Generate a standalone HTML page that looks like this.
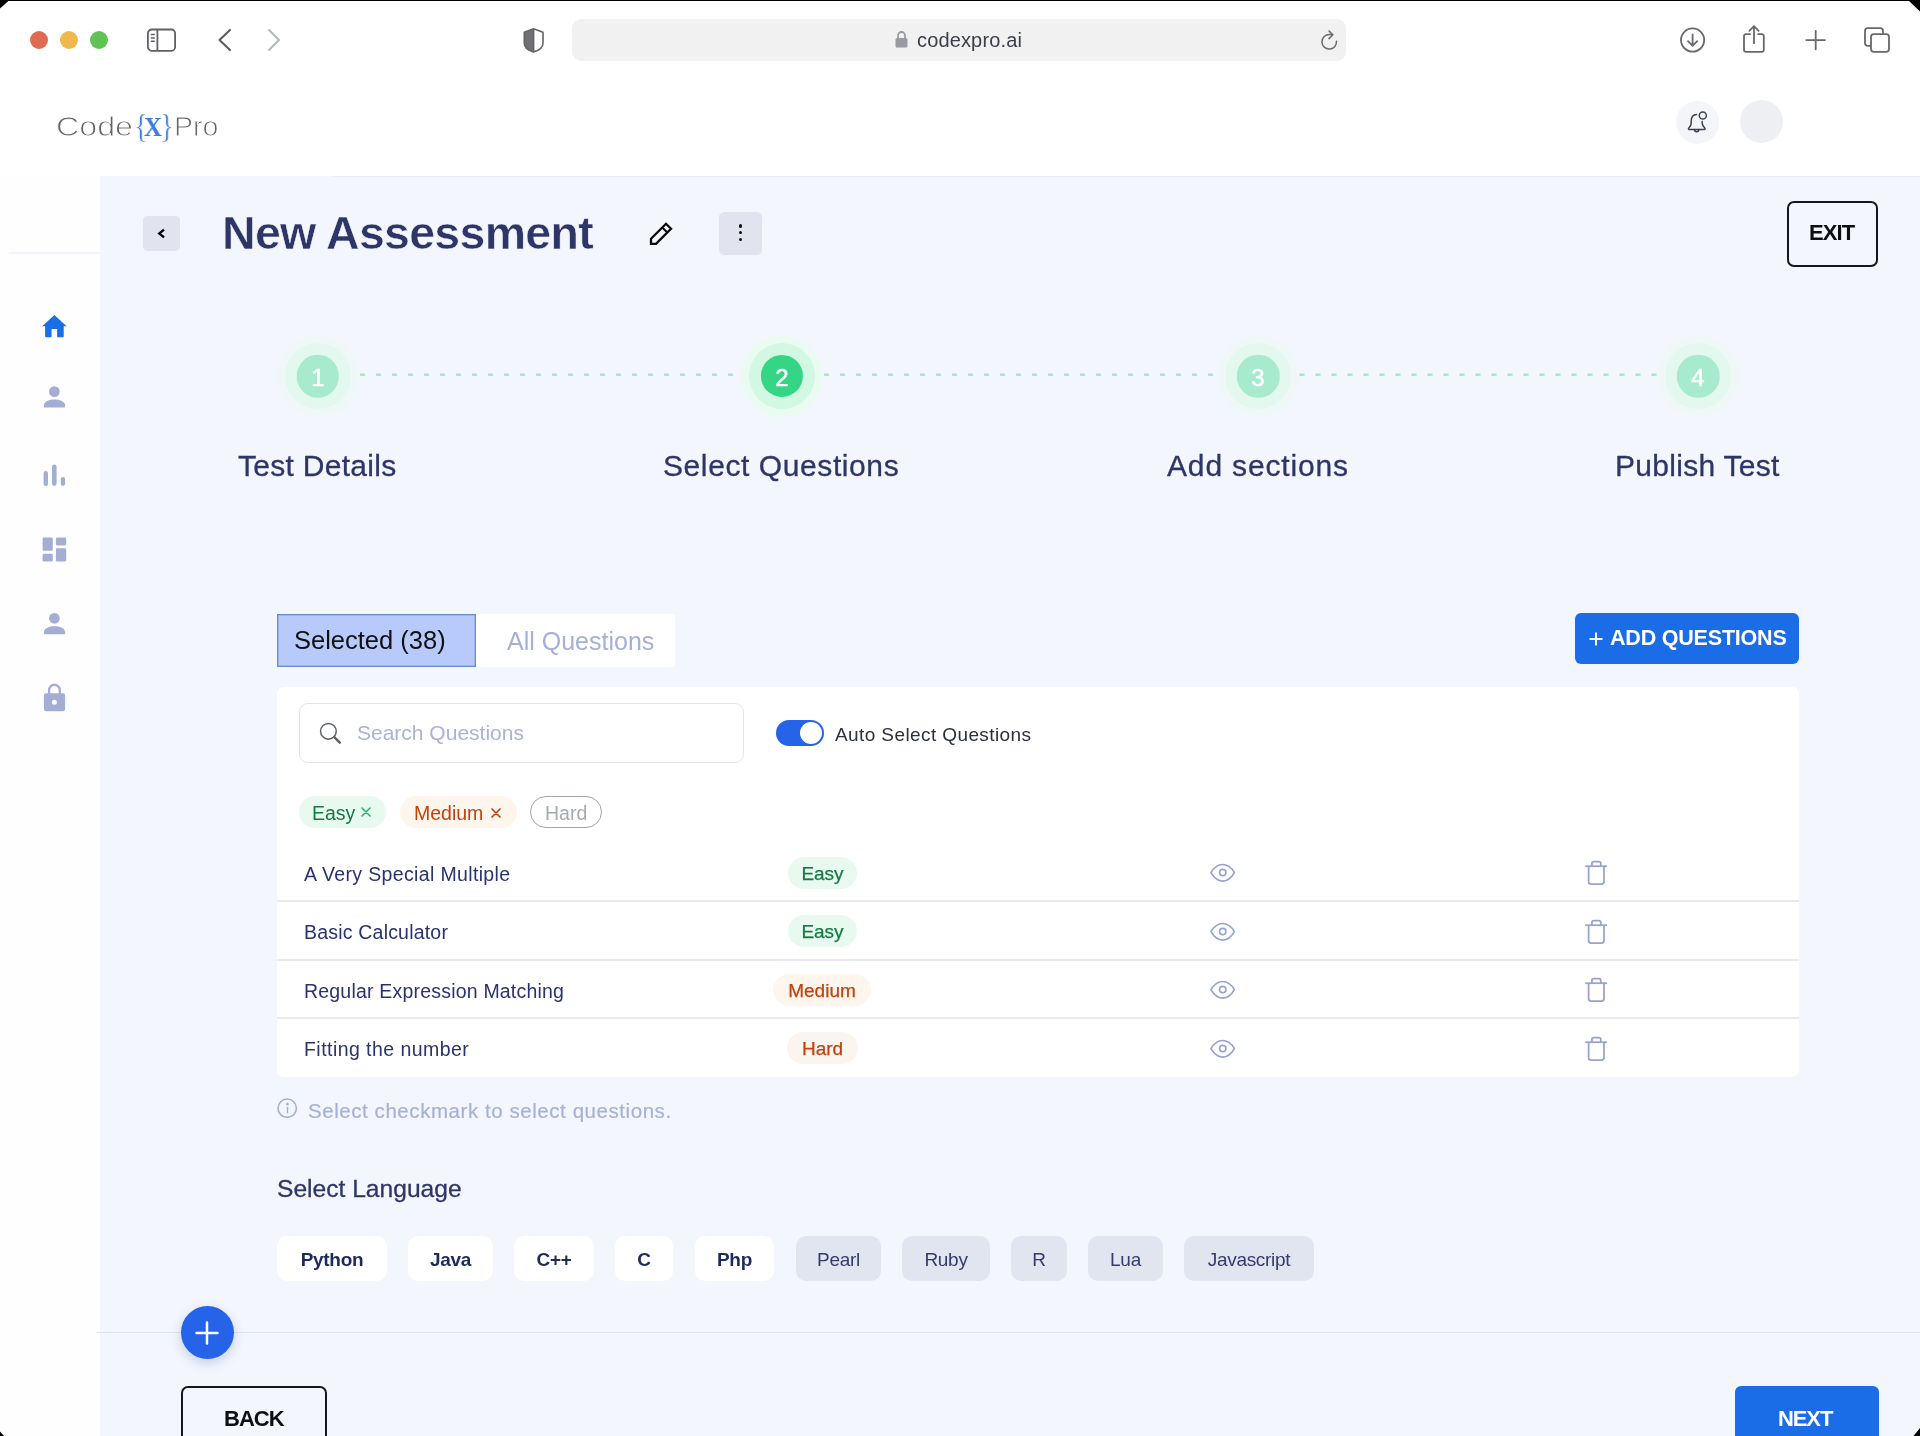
<!DOCTYPE html>
<html><head><meta charset="utf-8">
<style>
*{margin:0;padding:0;box-sizing:border-box}
html,body{width:1920px;height:1436px;overflow:hidden;background:#000}
body{font-family:"Liberation Sans",sans-serif;position:relative}
#win{position:absolute;left:0;top:0;width:1920px;height:1436px;background:#fff;overflow:hidden}
.a{position:absolute}
.t{position:absolute;white-space:nowrap;line-height:1;will-change:transform}
#main{position:absolute;left:100px;top:176px;width:1820px;height:1280px;background:#f3f6fd}
#side{position:absolute;left:0;top:176px;width:100px;height:1280px;background:#fefefe}
.tl{position:absolute;top:31px;width:18px;height:18px;border-radius:50%}
.navy{color:#2e3567}
.step{position:absolute;top:376px;border-radius:50%;transform:translate(-50%,-50%)}
.lbl{font-size:30px;color:#2e3567;letter-spacing:.5px;-webkit-text-stroke:.3px #2e3567}
.num{top:365.7px;width:40px;text-align:center;font-size:24px;color:#fff;-webkit-text-stroke:.5px #fff}
.row{position:absolute;left:277px;width:1522px;height:2px;background:#e8eaf0}
.qt{font-size:19.5px;letter-spacing:.35px;color:#2a3270}
.badge{will-change:transform;position:absolute;height:32px;border-radius:16px;font-size:19px;line-height:32px;padding-top:1px;text-align:center;-webkit-text-stroke:.25px currentColor}
.easy{background:#e8faf0;color:#157a45}
.med{background:#fef6ec;color:#c2410c}
.lang{will-change:transform;position:absolute;top:1236px;height:45px;border-radius:10px;font-size:19px;line-height:45px;padding-top:1px;text-align:center;color:#1f2a5c;letter-spacing:-.3px}
.on{background:#fff;font-weight:700}
.off{background:#e1e5f0;color:#333c6c}
</style></head><body>
<div id="win">

  <!-- browser toolbar -->
  <div class="tl" style="left:30.2px;background:#dd6c52"></div>
  <div class="tl" style="left:60.2px;background:#f1b94b"></div>
  <div class="tl" style="left:90.2px;background:#60c454"></div>
  <!-- sidebar toggle -->
  <svg class="a" style="left:146px;top:28px" width="32" height="24" viewBox="0 0 32 24" fill="none" stroke="#5f5f64" stroke-width="1.8"><rect x="1.9" y="1.5" width="27.2" height="21.3" rx="3.8"/><line x1="11.4" y1="1.5" x2="11.4" y2="22.8"/><g stroke-width="1.4" stroke-linecap="round"><line x1="5.3" y1="6.5" x2="8.3" y2="6.5"/><line x1="5.3" y1="10" x2="8.3" y2="10"/><line x1="5.3" y1="13.2" x2="8.3" y2="13.2"/></g></svg>
  <svg class="a" style="left:214px;top:28px" width="22" height="24" viewBox="0 0 22 24" fill="none" stroke="#5b5b60" stroke-width="2.1" stroke-linecap="round" stroke-linejoin="round"><path d="M16 2 L5.5 12 L16 22"/></svg>
  <svg class="a" style="left:262px;top:28px" width="22" height="24" viewBox="0 0 22 24" fill="none" stroke="#b3b6c3" stroke-width="2" stroke-linecap="round" stroke-linejoin="round"><path d="M7 2 L17 12 L7 22"/></svg>
  <!-- shield -->
  <svg class="a" style="left:518px;top:24px" width="32" height="32" viewBox="518 24 32 32"><path d="M533.6 28.8 L524.3 32.3 V43 C524.3 47.6 528.5 50.6 533.6 51.9 Z" fill="#707075"/><path d="M533.6 28.8 L543 32.3 V43 C543 47.6 538.7 50.6 533.6 51.9 C528.5 50.6 524.3 47.6 524.3 43 V32.3 Z M533.6 28.8 V51.9" fill="none" stroke="#636368" stroke-width="1.6" stroke-linejoin="round"/></svg>
  <!-- url bar -->
  <div class="a" style="left:572px;top:19px;width:774px;height:42px;border-radius:9px;background:#f1f1f2"></div>
  <svg class="a" style="left:895px;top:30px" width="13" height="18" viewBox="0 0 13 18"><path d="M3 8 V5.5 A3.5 3.5 0 0 1 10 5.5 V8" fill="none" stroke="#9a9aa5" stroke-width="1.8"/><rect x="0.5" y="8" width="12" height="9.5" rx="1.5" fill="#9a9aa5"/></svg>
  <div class="t" style="left:916.5px;top:29.9px;font-size:20px;color:#3b3e4b;letter-spacing:.15px">codexpro.ai</div>
  <svg class="a" style="left:1318px;top:28px" width="24" height="24" viewBox="0 0 24 24" fill="none" stroke="#6b6b70" stroke-width="1.5" stroke-linecap="round" stroke-linejoin="round"><path d="M14.5 6.6 C13.5 6.5 12.3 6.5 11.2 6.5 A7.3 7.3 0 1 0 18.5 13.3"/><path d="M11 3 L14.8 6.8 L11 10.6"/></svg>
  <!-- right toolbar icons -->
  <svg class="a" style="left:1670px;top:18px" width="230" height="40" viewBox="1670 18 230 40" fill="none" stroke="#68686d" stroke-width="1.8" stroke-linecap="round" stroke-linejoin="round">
    <circle cx="1692.6" cy="40.05" r="11.6"/><path d="M1692.6 34.4 V45.2 M1688 41.2 L1692.6 45.8 L1697.2 41.2"/>
    <path d="M1750 34.2 H1746.1 A2.1 2.1 0 0 0 1744 36.3 V49.8 A2.1 2.1 0 0 0 1746.1 51.9 H1761.7 A2.1 2.1 0 0 0 1763.8 49.8 V36.3 A2.1 2.1 0 0 0 1761.7 34.2 H1758.2"/><path d="M1754 26.6 V43.2 M1749.4 30.8 L1754 26.2 L1758.6 30.8"/>
    <path d="M1806.2 40.05 H1825 M1815.7 30.8 V49.3"/>
    <rect x="1865" y="28.2" width="18" height="17.7" rx="2.8"/><rect x="1871" y="34.2" width="18" height="17.7" rx="2.8" fill="#fff"/>
  </svg>

  <!-- app header -->
  <div class="t" style="left:56px;top:112.8px;font-size:28px;color:#636368;-webkit-text-stroke:.9px #fff;transform:scaleX(1.15);transform-origin:0 0">Code</div>
  <div class="t" style="left:133.8px;top:109px;font-size:34px;color:#3a7be0;font-family:'Liberation Serif',serif;-webkit-text-stroke:.4px #fff;transform:scaleX(.85);transform-origin:0 0">{</div>
  <div class="t" style="left:144px;top:114px;font-size:27px;color:#3a7be0;font-weight:700;font-family:'Liberation Serif',serif;transform:scaleX(.92);transform-origin:0 0">X</div>
  <div class="t" style="left:160.3px;top:109px;font-size:34px;color:#3a7be0;font-family:'Liberation Serif',serif;-webkit-text-stroke:.4px #fff;transform:scaleX(.85);transform-origin:0 0">}</div>
  <div class="t" style="left:173.5px;top:112.8px;font-size:28px;color:#636368;-webkit-text-stroke:.9px #fff;transform:scaleX(1.02);transform-origin:0 0">Pro</div>
  <div class="a" style="left:1676px;top:101px;width:43px;height:43px;border-radius:50%;background:#f4f5f8"></div>
  <svg class="a" style="left:1682px;top:106px" width="30" height="32" viewBox="1682 106 30 32" fill="none" stroke="#3c404f" stroke-width="1.5" stroke-linecap="round" stroke-linejoin="round"><path d="M1696.6 114.4 C1693 114.6 1691.2 117.5 1691.2 121 V123.3 C1691.2 125.5 1690 127 1688.8 128 C1688.2 128.5 1688.5 129.4 1689.3 129.4 H1704.3 C1705.1 129.4 1705.4 128.5 1704.8 128 C1703.6 127 1702.2 125.5 1702.2 123.3 V121.4"/><path d="M1694.5 129.6 A2.2 2.2 0 0 0 1698.9 129.6"/><circle cx="1702.8" cy="115.5" r="3.55" stroke-width="1.45"/></svg>
  <div class="a" style="left:1740px;top:100px;width:43px;height:43px;border-radius:50%;background:#eeeff3"></div>

  <!-- sidebar -->
  <div id="side"></div>
  <div class="a" style="left:9px;top:252px;width:91px;height:2px;background:#f3f5fb"></div>
  <!-- sidebar icons -->
  <svg class="a" style="left:38px;top:312px" width="32" height="28" viewBox="38 312 32 28"><path d="M54.4 315 L66.6 326.3 H63.7 V336.3 Q63.7 337.2 62.8 337.2 H58 Q57.1 337.2 57.1 336.3 V329 H51.6 V336.3 Q51.6 337.2 50.7 337.2 H46 Q45.1 337.2 45.1 336.3 V326.3 H42.2 Z" fill="#1a6ee6"/></svg>
  <svg class="a" style="left:36px;top:380px" width="36" height="340" viewBox="36 380 36 340" fill="#a4aed4">
    <circle cx="54.4" cy="391.6" r="5.35"/><path d="M43.9 407.6 V405.3 C43.9 401.4 49.5 399.5 54.5 399.5 C59.5 399.5 65.1 401.4 65.1 405.3 V407.6 Z"/>
    <rect x="43.6" y="471" width="4.4" height="14.9" rx="2.2"/><rect x="52" y="464.6" width="4.6" height="21.3" rx="2.3"/><rect x="60.8" y="476.9" width="4.3" height="9" rx="2.15"/>
    <rect x="42.6" y="537.6" width="10.2" height="13.2" rx="1.3"/><rect x="55.9" y="537.6" width="10.3" height="7.8" rx="1.3"/><rect x="42.6" y="553.7" width="10.2" height="7.8" rx="1.3"/><rect x="55.9" y="548.3" width="10.3" height="13.2" rx="1.3"/>
    <circle cx="54.4" cy="618.3" r="5.35"/><path d="M43.9 634.3 V632 C43.9 628.1 49.5 626.2 54.5 626.2 C59.5 626.2 65.1 628.1 65.1 632 V634.3 Z"/>
    <path d="M49.1 694 V690.1 A5.35 5.35 0 0 1 59.8 690.1 V694" fill="none" stroke="#a4aed4" stroke-width="2.3"/>
    <path fill-rule="evenodd" d="M45.9 693.2 H63.1 A2 2 0 0 1 65.1 695.2 V709.3 A2 2 0 0 1 63.1 711.3 H45.9 A2 2 0 0 1 43.9 709.3 V695.2 A2 2 0 0 1 45.9 693.2 Z M54.4 699.7 A2.5 2.5 0 1 0 54.4 704.7 A2.5 2.5 0 1 0 54.4 699.7 Z"/>
  </svg>
  <!-- main -->
  <div id="main"></div>
  <div class="a" style="left:332px;top:176px;width:1588px;height:1px;background:#eaedf5"></div>
  <!-- page title row -->
  <div class="a" style="left:143px;top:216.2px;width:37px;height:34.7px;border-radius:4.5px;background:#e1e4ee"></div>
  <svg class="a" style="left:150px;top:224px" width="20" height="20" viewBox="150 224 20 20" fill="none" stroke="#050505" stroke-width="2.4" stroke-linejoin="miter"><path d="M164 229.6 L159.3 233.5 L164 237.4"/></svg>
  <div class="t navy" style="left:222.3px;top:209.8px;font-size:46.5px;font-weight:700;color:#2e3567;letter-spacing:-.7px;-webkit-text-stroke:.5px #f3f6fd">New Assessment</div>
  <svg class="a" style="left:645px;top:218px" width="32" height="32" viewBox="645 218 32 32" fill="none" stroke="#0a0a0a" stroke-width="2.3" stroke-linejoin="miter"><path d="M651 238.8 L666 223.8 L671 228.8 L656 243.8 L651 243.8 Z"/><path d="M662.3 227.5 L667.3 232.5" stroke-width="2"/></svg>
  <div class="a" style="left:719.2px;top:211.7px;width:43.2px;height:43px;border-radius:5.5px;background:#e1e4ee"></div>
  <div class="a" style="left:738.7px;top:224.3px;width:3.4px;height:3.4px;border-radius:50%;background:#111"></div>
  <div class="a" style="left:738.7px;top:231.1px;width:3.4px;height:3.4px;border-radius:50%;background:#111"></div>
  <div class="a" style="left:738.7px;top:237.6px;width:3.4px;height:3.4px;border-radius:50%;background:#111"></div>
  <div class="a" style="left:1786.5px;top:200.5px;width:91px;height:66px;border:2px solid #15171c;border-radius:7px;background:#f3f6fd"></div>
  <div class="t" style="left:1808.5px;top:221.9px;font-size:22px;font-weight:700;color:#0d0f14;letter-spacing:-.9px">EXIT</div>

  <!-- stepper -->
  <svg class="a" style="left:0;top:370px" width="1920" height="10">
    <line x1="360" y1="4.7" x2="734" y2="4.7" stroke="#a3e9c6" stroke-width="2.5" stroke-dasharray="5 11"/>
    <line x1="824" y1="4.7" x2="1214" y2="4.7" stroke="#a3e9c6" stroke-width="2.5" stroke-dasharray="5 11"/>
    <line x1="1299.5" y1="4.7" x2="1657" y2="4.7" stroke="#a3e9c6" stroke-width="2.5" stroke-dasharray="5 11"/>
  </svg>
  <div class="step" style="left:317.5px;width:81px;height:81px;background:#f0f8f7"></div>
  <div class="step" style="left:317.5px;width:66px;height:66px;background:#e3f8ef"></div>
  <div class="step" style="left:317.5px;width:42.5px;height:42.5px;background:#a7eace"></div>
  <div class="step" style="left:781.8px;width:81.5px;height:81.5px;background:#eafcf2"></div>
  <div class="step" style="left:781.8px;width:66px;height:66px;background:#d2f7e3"></div>
  <div class="step" style="left:781.8px;width:42.2px;height:42.2px;background:#34d584"></div>
  <div class="step" style="left:1258px;width:81px;height:81px;background:#f0f8f7"></div>
  <div class="step" style="left:1258px;width:66px;height:66px;background:#e3f8ef"></div>
  <div class="step" style="left:1258px;width:42.5px;height:42.5px;background:#a7eace"></div>
  <div class="step" style="left:1698px;width:81px;height:81px;background:#f0f8f7"></div>
  <div class="step" style="left:1698px;width:66px;height:66px;background:#e3f8ef"></div>
  <div class="step" style="left:1698px;width:42.5px;height:42.5px;background:#a7eace"></div>
  <div class="t num" style="left:297.5px">1</div>
  <div class="t num" style="left:761.8px">2</div>
  <div class="t num" style="left:1238px">3</div>
  <div class="t num" style="left:1678px">4</div>
  <div class="t lbl" style="left:238px;top:451.4px;letter-spacing:.28px">Test Details</div>
  <div class="t lbl" style="left:663px;top:451.4px;letter-spacing:.59px">Select Questions</div>
  <div class="t lbl" style="left:1167px;top:451.4px;letter-spacing:.85px">Add sections</div>
  <div class="t lbl" style="left:1614.7px;top:451.4px;letter-spacing:.29px">Publish Test</div>

  <!-- tabs -->
  <div class="a" style="left:277px;top:614px;width:199px;height:53px;background:#b8cafb;border:1px solid #6a8bd0;box-shadow:inset 0 0 0 .5px #7e9ddb"></div>
  <div class="t" style="left:294px;top:628px;font-size:25.5px;color:#111">Selected (38)</div>
  <div class="a" style="left:476px;top:614px;width:199px;height:53px;background:#fff"></div>
  <div class="t" style="left:507px;top:628.8px;font-size:25px;color:#a5b0d8">All Questions</div>
  <div class="a" style="left:1575px;top:613px;width:224px;height:51px;border-radius:6px;background:#1a6de6"></div>
  <svg class="a" style="left:1588.5px;top:631.5px" width="14" height="14" viewBox="0 0 14 14" stroke="#fff" stroke-width="2"><path d="M7 0.5 V13.5 M0.5 7 H13.5"/></svg>
  <div class="t" style="left:1610px;top:627.7px;font-size:21.5px;font-weight:700;color:#fff;letter-spacing:-.2px">ADD QUESTIONS</div>

  <!-- card -->
  <div class="a" style="left:277px;top:687px;width:1522px;height:390px;border-radius:7px;background:#fff"></div>
  <div class="a" style="left:299px;top:703px;width:445px;height:60px;border:1px solid #e2e5ec;border-radius:9px"></div>
  <svg class="a" style="left:316px;top:719px" width="28" height="28" viewBox="316 719 28 28" fill="none" stroke="#5b5f6b" stroke-linecap="round"><circle cx="328.4" cy="731.3" r="7.85" stroke-width="1.45"/><path d="M334.3 737.2 L339.8 742.7" stroke-width="2.4"/></svg>
  <div class="t" style="left:357px;top:722px;font-size:21px;color:#a9b3d7">Search Questions</div>
  <div class="a" style="left:776px;top:719.8px;width:48px;height:26.6px;border-radius:14px;background:#2563e8"></div>
  <div class="a" style="left:800px;top:722.4px;width:22px;height:22px;border-radius:50%;background:#fff"></div>
  <div class="t" style="left:835px;top:724.9px;font-size:19px;letter-spacing:.4px;color:#2b2f3f">Auto Select Questions</div>
  <!-- chips -->
  <div class="a" style="left:299px;top:795.5px;width:87px;height:32.5px;border-radius:17px;background:#e8faf0"></div>
  <div class="t" style="left:312px;top:803.5px;font-size:19.5px;color:#137a43">Easy</div>
  <svg class="a" style="left:360.5px;top:807px" width="10" height="10" viewBox="0 0 10 10" stroke="#2bb26a" stroke-width="1.6" stroke-linecap="round"><path d="M1 1 L9 9 M9 1 L1 9"/></svg>
  <div class="a" style="left:400px;top:795.5px;width:117px;height:32.5px;border-radius:17px;background:#fef6ec"></div>
  <div class="t" style="left:413.5px;top:803.5px;font-size:19.5px;color:#c2410c">Medium</div>
  <svg class="a" style="left:490.5px;top:807.5px" width="10" height="10" viewBox="0 0 10 10" stroke="#c2410c" stroke-width="1.7" stroke-linecap="round"><path d="M1 1 L9 9 M9 1 L1 9"/></svg>
  <div class="a" style="left:530px;top:795.5px;width:72px;height:32.5px;border-radius:17px;border:1.5px solid #a0a4b0;background:#fff"></div>
  <div class="t" style="left:544.5px;top:803.5px;font-size:19.5px;color:#a6aab3">Hard</div>

  <!-- rows -->
  <div class="row" style="top:900.3px"></div>
  <div class="row" style="top:958.8px"></div>
  <div class="row" style="top:1017.3px"></div>
  <div class="t qt" style="left:304px;top:864.5px">A Very Special Multiple</div>
  <div class="t qt" style="left:304px;top:923px;letter-spacing:.2px">Basic Calculator</div>
  <div class="t qt" style="left:304px;top:981.5px;letter-spacing:.2px">Regular Expression Matching</div>
  <div class="t qt" style="left:304px;top:1040px;letter-spacing:.45px">Fitting the number</div>
  <div class="badge easy" style="left:788px;top:857px;width:69px">Easy</div>
  <div class="badge easy" style="left:788px;top:915.2px;width:69px">Easy</div>
  <div class="badge med" style="left:773px;top:973.5px;width:98px">Medium</div>
  <div class="badge med" style="left:786.5px;top:1032px;width:71px;background:#fbf5ef">Hard</div>

  <svg width="0" height="0" style="position:absolute">
    <defs>
      <g id="eye" fill="none" stroke="#98a3cd" stroke-width="1.7"><path d="M6 17.7 C9 12.5 13 9.5 17.7 9.5 C22.4 9.5 26.4 12.5 29.4 17.7 C26.4 22.9 22.4 26.1 17.7 26.1 C13 26.1 9 22.9 6 17.7 Z"/><circle cx="17.75" cy="17.6" r="3.2" stroke-width="1.6"/></g>
      <g id="trash" fill="none" stroke="#98a3cd" stroke-width="1.75" stroke-linejoin="round"><path d="M5.2 11.2 H27.1"/><path d="M11.9 11.2 V8.5 A2 2 0 0 1 13.9 6.5 H18.8 A2 2 0 0 1 20.8 8.5 V11.2"/><path d="M8.6 11.2 V26.5 A2.5 2.5 0 0 0 11.1 29 H21.5 A2.5 2.5 0 0 0 24 26.5 V11.2"/></g>
    </defs>
  </svg>
  <svg class="a" style="left:1205px;top:855px" width="36" height="36"><use href="#eye"/></svg>
  <svg class="a" style="left:1205px;top:913.5px" width="36" height="36"><use href="#eye"/></svg>
  <svg class="a" style="left:1205px;top:972px" width="36" height="36"><use href="#eye"/></svg>
  <svg class="a" style="left:1205px;top:1030.5px" width="36" height="36"><use href="#eye"/></svg>
  <svg class="a" style="left:1580px;top:855px" width="36" height="36"><use href="#trash"/></svg>
  <svg class="a" style="left:1580px;top:913.5px" width="36" height="36"><use href="#trash"/></svg>
  <svg class="a" style="left:1580px;top:972px" width="36" height="36"><use href="#trash"/></svg>
  <svg class="a" style="left:1580px;top:1030.5px" width="36" height="36"><use href="#trash"/></svg>

  <!-- footer area -->
  <svg class="a" style="left:274px;top:1095px" width="26" height="26" viewBox="274 1095 26 26" fill="none" stroke="#a4aed5" stroke-width="1.6"><circle cx="287.2" cy="1108.2" r="9.2"/><path d="M287.5 1106.8 V1113.3" stroke-width="1.4"/><circle cx="287.5" cy="1104.2" r=".55" fill="#a4aed5"/></svg>
  <div class="t" style="left:308px;top:1100.9px;font-size:20.5px;color:#a7b1d7;letter-spacing:.56px;-webkit-text-stroke:.2px #a7b1d7">Select checkmark to select questions.</div>
  <div class="t" style="left:277px;top:1176.5px;font-size:24.6px;color:#2e3567;-webkit-text-stroke:.3px #2e3567">Select Language</div>
  <div class="lang on" style="left:277px;width:110px">Python</div>
  <div class="lang on" style="left:408px;width:85px">Java</div>
  <div class="lang on" style="left:514px;width:80px">C++</div>
  <div class="lang on" style="left:615px;width:58px">C</div>
  <div class="lang on" style="left:695px;width:79px">Php</div>
  <div class="lang off" style="left:796px;width:85px">Pearl</div>
  <div class="lang off" style="left:902px;width:88px">Ruby</div>
  <div class="lang off" style="left:1011px;width:56px">R</div>
  <div class="lang off" style="left:1088px;width:75px">Lua</div>
  <div class="lang off" style="left:1184px;width:130px">Javascript</div>

  <div class="a" style="left:97px;top:1332px;width:1823px;height:1px;background:#dfe3ee"></div>
  <div class="a" style="left:180.5px;top:1306px;width:53px;height:53px;border-radius:50%;background:#2563e8;box-shadow:0 4px 12px rgba(37,70,150,.22)"></div>
  <svg class="a" style="left:195px;top:1321px" width="24" height="24" viewBox="0 0 24 24" stroke="#fff" stroke-width="2.5" stroke-linecap="round"><path d="M12 1.5 V22.5 M1.5 12 H22.5"/></svg>
  <div class="a" style="left:180.5px;top:1385.8px;width:146.5px;height:70px;border:2px solid #15171c;border-radius:7px"></div>
  <div class="t" style="left:223.5px;top:1408.1px;font-size:22px;font-weight:700;color:#0d0f14;letter-spacing:-1px">BACK</div>
  <div class="a" style="left:1735px;top:1386px;width:144px;height:70px;border-radius:6px;background:#1a6de6"></div>
  <div class="t" style="left:1778px;top:1408.1px;font-size:22px;font-weight:700;color:#fff;letter-spacing:-1.1px">NEXT</div>
</div>
<svg class="a" style="left:0;top:0;z-index:9" width="1920" height="1436"><rect x="0" y="0" width="1920" height="1" fill="#000"/><polygon points="0,0 9.5,0 0,8.5" fill="#000"/><polygon points="1920,0 1908,0 1920,11.5" fill="#000"/><polygon points="0,1431.5 0,1436 4,1436" fill="#000"/><polygon points="1920,1428 1920,1436 1913.5,1436" fill="#000"/></svg>
</body></html>
